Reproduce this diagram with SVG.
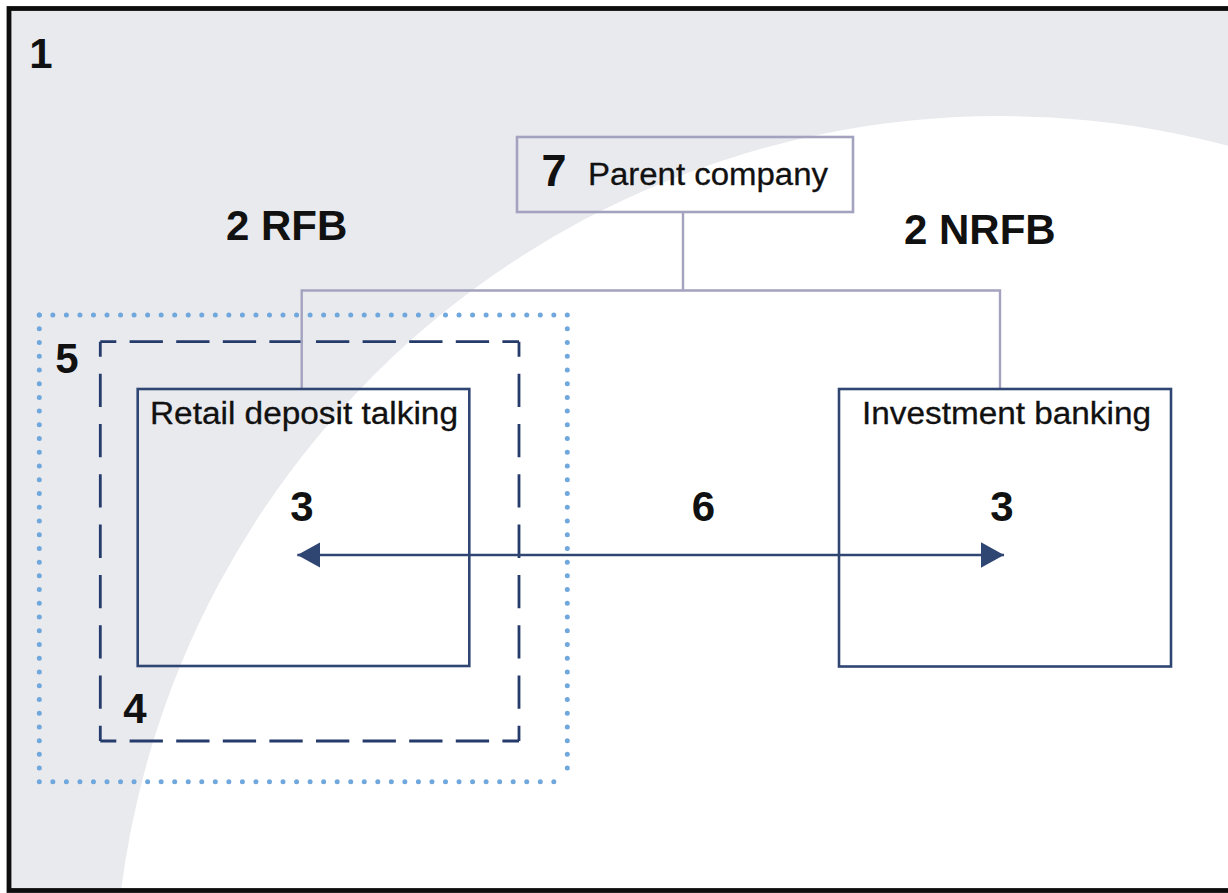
<svg xmlns="http://www.w3.org/2000/svg" width="1228" height="893" viewBox="0 0 1228 893">
  <defs>
    <style>
      .big { font-family: "Liberation Sans", Arial, Helvetica, sans-serif; font-weight: bold; font-size: 42px; fill: #111111; }
      .lbl { font-family: "Liberation Sans", Arial, Helvetica, sans-serif; font-size: 31px; fill: #111111; stroke: #111111; stroke-width: 0.3; }
      .node { fill: none; stroke: #2f4673; stroke-width: 2.6; }
      .parent { fill: none; stroke: #a3a3bf; stroke-width: 2.6; }
      .tree { fill: none; stroke: #a3a3bf; stroke-width: 2.4; }
      .dash { fill: none; stroke: #243b6b; stroke-width: 2.8; }
      .dot { fill: none; stroke: #70a7dc; stroke-width: 5; stroke-linecap: round; }
    </style>
    <clipPath id="frameClip">
      <rect x="9" y="8.5" width="1240" height="882"/>
    </clipPath>
    <marker id="arrow" markerUnits="userSpaceOnUse" markerWidth="24" markerHeight="26" refX="23" refY="12.7" orient="auto-start-reverse" viewBox="0 0 24 26">
      <path d="M0,0 L23,12.7 L0,25.4 Z" fill="#2f4673"/>
    </marker>
  </defs>

  <rect x="0" y="0" width="1228" height="893" fill="#ffffff"/>

  <g id="background" clip-path="url(#frameClip)">
    <rect x="9" y="8.5" width="1240" height="882" fill="#e9eaee"/>
    <circle cx="1000" cy="1002" r="886" fill="#ffffff"/>
  </g>

  <g id="frame">
    <rect x="9" y="8.5" width="1250" height="882" fill="none" stroke="#0d0d0d" stroke-width="4.8"/>
    <text class="big" x="41" y="68" text-anchor="middle">1</text>
  </g>

  <g id="group-5">
    <line class="dot" x1="39.3" y1="315" x2="567.3" y2="315" stroke-dasharray="0 13.54"/>
    <line class="dot" x1="39.3" y1="781.7" x2="567.3" y2="781.7" stroke-dasharray="0 13.54"/>
    <line class="dot" x1="39.3" y1="315" x2="39.3" y2="781.7" stroke-dasharray="0 13.73"/>
    <line class="dot" x1="567.3" y1="315" x2="567.3" y2="781.7" stroke-dasharray="0 13.73"/>
    <text class="big" x="67" y="373" text-anchor="middle">5</text>
  </g>

  <g id="group-4">
    <line class="dash" x1="100.3" y1="341.7" x2="519" y2="341.7" stroke-dasharray="33.3 13.3" stroke-dashoffset="17.3"/>
    <line class="dash" x1="100.3" y1="741" x2="519" y2="741" stroke-dasharray="33.3 13.3" stroke-dashoffset="17.3"/>
    <line class="dash" x1="100.3" y1="341.7" x2="100.3" y2="741" stroke-dasharray="33.3 17" stroke-dashoffset="18.3"/>
    <line class="dash" x1="519" y1="341.7" x2="519" y2="741" stroke-dasharray="33.3 17" stroke-dashoffset="18.3"/>
    <text class="big" x="135" y="723" text-anchor="middle">4</text>
  </g>

  <g id="label-rfb">
    <text class="big" x="226" y="240">2 RFB</text>
  </g>
  <g id="label-nrfb">
    <text class="big" x="904" y="244">2 NRFB</text>
  </g>

  <g id="connectors">
    <polyline class="tree" points="683,212 683,290.5"/>
    <polyline class="tree" points="301.7,389 301.7,290.5 1000,290.5 1000,389"/>
    <line x1="297.3" y1="555" x2="1004" y2="555" stroke="#2f4673" stroke-width="2.6" marker-start="url(#arrow)" marker-end="url(#arrow)"/>
    <text class="big" x="703.5" y="521" text-anchor="middle">6</text>
  </g>

  <g id="node-parent">
    <rect class="parent" x="517" y="137" width="336" height="75"/>
    <text class="big" x="554" y="186" text-anchor="middle" style="font-size:45px">7</text>
    <text class="lbl" x="588" y="185" textLength="240" lengthAdjust="spacingAndGlyphs">Parent company</text>
  </g>

  <g id="node-retail">
    <rect class="node" x="137.7" y="389" width="331.6" height="277"/>
    <text class="lbl" x="150" y="424" textLength="308" lengthAdjust="spacingAndGlyphs">Retail deposit talking</text>
    <text class="big" x="302" y="521" text-anchor="middle">3</text>
  </g>

  <g id="node-investment">
    <rect class="node" x="839" y="389" width="332" height="277.5"/>
    <text class="lbl" x="862" y="424" textLength="289" lengthAdjust="spacingAndGlyphs">Investment banking</text>
    <text class="big" x="1002" y="521" text-anchor="middle">3</text>
  </g>
</svg>
